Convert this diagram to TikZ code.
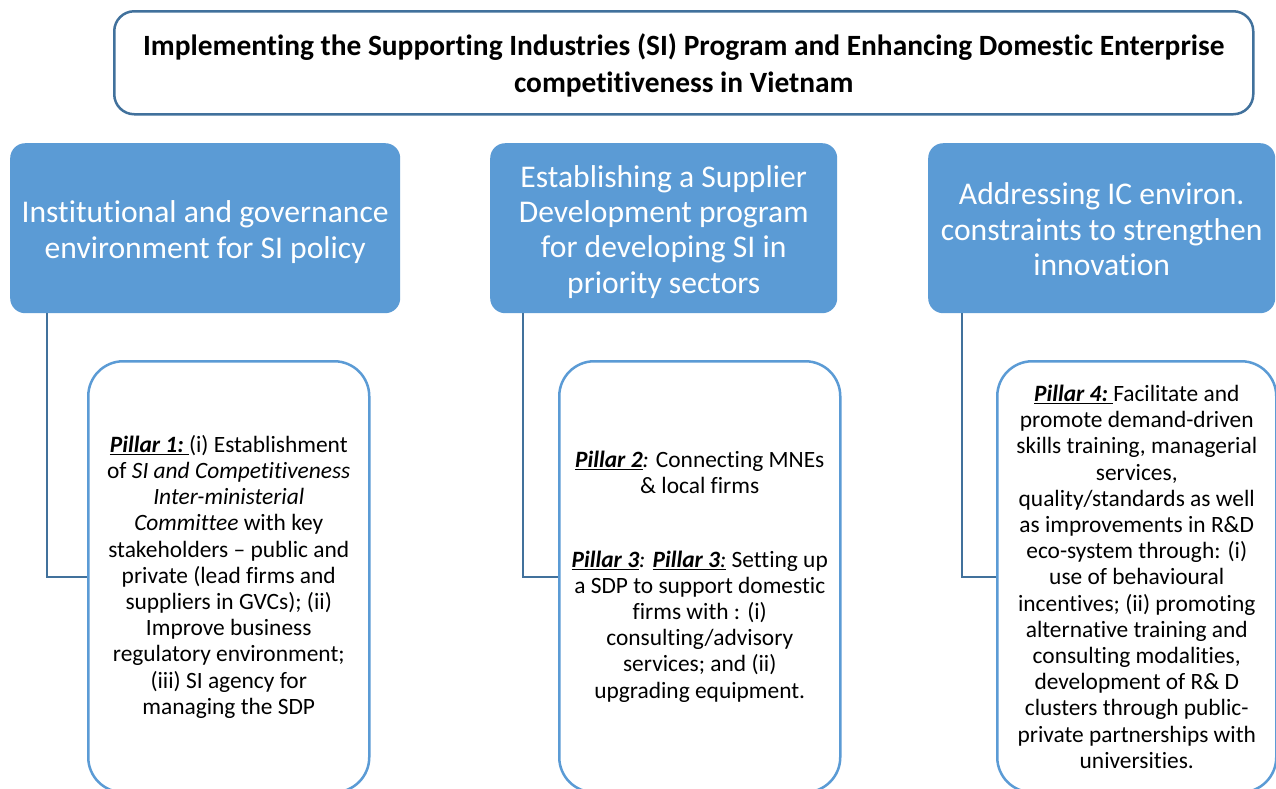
\documentclass[tikz,border=0pt]{standalone}
\usepackage{fontspec}
\setmainfont{Carlito}[RawFeature={-liga}]
\definecolor{boxblue}{HTML}{5B9BD5}
\definecolor{edgeblue}{HTML}{41719C}
\definecolor{pillaredge}{HTML}{5B9BD5}
\tikzset{
  titlebox/.style={draw=edgeblue, line width=2.5pt, rounded corners=20pt, fill=white,
    inner sep=0pt, anchor=north west},
  titletext/.style={inner sep=0pt, align=center,
    font=\fontsize{29.4}{37}\selectfont\bfseries},
  headbox/.style={fill=boxblue, draw=none, rounded corners=15pt, inner sep=0pt,
    anchor=north west},
  headtext/.style={inner sep=0pt, align=center, text=white,
    font=\fontsize{31.6}{35.3}\selectfont},
  pillarbox/.style={draw=pillaredge, line width=2.5pt, rounded corners=35pt, fill=white,
    inner sep=0pt, align=center, anchor=north west,
    font=\fontsize{23.4}{26.2}\selectfont},
  conn/.style={draw=edgeblue, line width=2pt}
}
\newcommand{\pil}[1]{\underline{\textbf{\textit{#1}}}}
\begin{document}
\begin{tikzpicture}[x=1pt,y=-1pt]
\clip (0,0) rectangle (1276,788);
\fill[white] (0,0) rectangle (1276,788);

\node[titlebox, minimum width=1139pt, minimum height=103pt] (title) at (113,10) {};
\node[titletext] (titlet) at ([yshift=-3pt]title.center)
  {Implementing the Supporting Industries (SI) Program and Enhancing Domestic Enterprise\\competitiveness in Vietnam};

\node[headbox, minimum width=390pt, minimum height=170pt] (h1) at (10,143) {};
\node[headbox, minimum width=347pt, minimum height=170pt] (h2) at (490,143) {};
\node[headbox, minimum width=347pt, minimum height=170pt] (h3) at (928,143) {};
\node[headtext] (h1t) at ([yshift=-4pt]h1.center)
  {Institutional and governance\\environment for SI policy};
\node[headtext] (h2t) at ([yshift=-3.5pt]h2.center)
  {Establishing a Supplier\\Development program\\for developing SI in\\priority sectors};
\node[headtext] (h3t) at ([yshift=-1pt]h3.center)
  {Addressing IC environ.\\constraints to strengthen\\innovation};

\node[pillarbox, minimum width=281pt, minimum height=431pt] (p1) at (87,360)
  {\underline{\textbf{\textit{Pillar 1:}}\ }(i) Establishment\\
   of \textit{SI and Competitiveness}\\
   \textit{Inter-ministerial}\\
   \textit{Committee} with key\\
   stakeholders -- public and\\
   private (lead firms and\\
   suppliers in GVCs); (ii)\\
   Improve business\\
   regulatory environment;\\
   (iii) SI agency for\\
   managing the SDP};
\node[pillarbox, minimum width=281pt, minimum height=431pt] (p2) at (558,360)
  {\pil{Pillar 2}\textit{:} Connecting MNEs\\
   \& local firms\\[47pt]
   \pil{Pillar 3}\textit{:} \pil{Pillar 3}\underline{\textit{:}} Setting up\\
   a SDP to support domestic\\
   firms with : (i)\\
   consulting/advisory\\
   services; and (ii)\\
   upgrading equipment.};
\node[pillarbox, minimum width=279pt, minimum height=431pt] (p3) at (996,360)
  {\underline{\textbf{\textit{Pillar 4:}}\ }Facilitate and\\
   promote demand-driven\\
   skills training, managerial\\
   services,\\
   quality/standards as well\\
   as improvements in R\&D\\
   eco-system through: (i)\\
   use of behavioural\\
   incentives; (ii) promoting\\
   alternative training and\\
   consulting modalities,\\
   development of R\& D\\
   clusters through public-\\
   private partnerships with\\
   universities.};

\draw[conn] ([xshift=37pt]h1.south west) |- (p1.west);
\draw[conn] ([xshift=33pt]h2.south west) |- (p2.west);
\draw[conn] ([xshift=34pt]h3.south west) |- (p3.west);
\end{tikzpicture}
\end{document}
